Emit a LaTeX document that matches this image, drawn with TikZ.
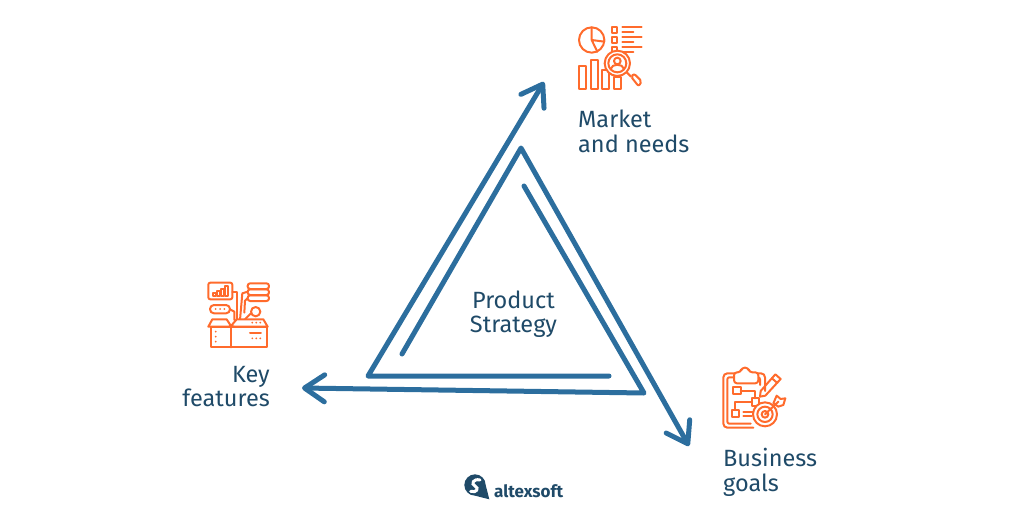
\documentclass[tikz,border=0pt]{standalone}
\usepackage{fontspec}
\setmainfont{Fira Sans}
\usepackage{xcolor}
\usetikzlibrary{arrows.meta, positioning}
\definecolor{FlowBlue}{HTML}{2C6E9E}
\definecolor{LabelNavy}{HTML}{1F4A68}
\definecolor{IconOrange}{HTML}{FF6B2C}
\tikzset{
  % Triangle strokes
  flow_line/.style={
    draw=FlowBlue, line width=5pt,
    line cap=round, line join=round
  },
  % Stroke with an open head
  flow_arrow/.style={
    flow_line,
    -{Straight Barb[length=20pt, width=27pt, round, line width=5pt]}
  },
  % Caption text
  label_text/.style={
    text=LabelNavy, align=left, inner sep=0pt,
    font=\fontsize{23.5}{24.5}\selectfont
  },
  % Icon outline, drawn in 3x crop units
  icon_line/.style={
    draw=IconOrange, line width=2pt,
    line cap=round, line join=round
  },
  icon_box/.style={
    shift={#1}, x=0.3333pt, y=-0.3333pt
  }
}

\begin{document}
\begin{tikzpicture}[x=1pt, y=-1pt]

\useasboundingbox (0,0) rectangle (1025,530);

% Corners of the strokes
\coordinate (first_start) at (402,354);
\coordinate (first_apex) at (521,148);
\coordinate (goals_tip) at (689,446);
\coordinate (second_start) at (609,376);
\coordinate (second_corner) at (368,376);
\coordinate (market_tip) at (544,82);
\coordinate (third_start) at (524,186);
\coordinate (third_corner) at (644,393);
\coordinate (features_tip) at (302,388);

% Strokes
\draw[flow_arrow] (first_start) -- (first_apex) -- (goals_tip);
\draw[flow_arrow] (second_start) -- (second_corner) -- (market_tip);
\draw[flow_arrow] (third_start) -- (third_corner) -- (features_tip);

% Labels
\node[label_text, align=center, anchor=center] (strategy) at (513.5,314)
  {Product\\Strategy};
\node[label_text, anchor=north west] (market) at (578,110)
  {Market\\and needs};
\node[label_text, align=right, anchor=north east] (features) at (270,366)
  {Key\\features};
\node[label_text, anchor=north west] (goals) at (723,448)
  {Business\\goals};

% Market icon
\begin{scope}[icon_box={(560,10)}]
  \draw[icon_line] (95,90) circle[radius=38];
  \draw[icon_line] (95,52) -- (95,90) -- (133,95) (95,90) -- (112,125);
  \foreach \row in {52,82,112} {
    \draw[icon_line] (155,\row) rectangle ++(16,16);
    \draw[icon_line] (187,\row) -- (245,\row);
    \draw[icon_line] (187,\row+14) -- (220,\row+14);
  }
  \draw[icon_line] (57,168) rectangle (78,238);
  \draw[icon_line] (92,150) rectangle (113,238);
  \draw[icon_line] (127,180) rectangle (148,238);
  \draw[icon_line] (162,200) rectangle (183,238);
  \draw[icon_line, fill=white] (172,160) circle[radius=38];
  \draw[icon_line] (172,160) circle[radius=27];
  \draw[icon_line] (172,153) circle[radius=10];
  \draw[icon_line] (152,177) .. controls (155,160) and (189,160) .. (192,177);
  \draw[icon_line] (200,187) -- (213,200);
  \draw[icon_line, rounded corners=2pt] (213,200) -- (222,191) -- (245,214) -- (236,229) -- cycle;
\end{scope}

% Features icon
\begin{scope}[icon_box={(195,270)}]
  \draw[icon_line, rounded corners=2pt] (40,38) rectangle (112,88);
  \foreach \col/\top in {55/70,67/64,79/56,91/48} {
    \draw[icon_line] (\col,78) rectangle (\col+8,\top);
  }
  \foreach \row in {40,58,76} {
    \draw[icon_line, rounded corners=2.5pt] (158,\row) rectangle (222,\row+17);
  }
  \draw[icon_line, rounded corners=4pt] (45,105) rectangle (105,130);
  \foreach \col in {62,75,88} {
    \fill[IconOrange] (\col,117) circle[radius=3];
  }
  \draw[icon_line] (182,125) circle[radius=14];
  \draw[icon_line] (112,65) -- (125,65) -- (125,150);
  \draw[icon_line] (158,65) -- (142,70) -- (135,150);
  \draw[icon_line] (158,85) -- (150,92) -- (148,128);
  \draw[icon_line] (168,130) -- (150,148);
  \draw[icon_line] (105,118) -- (118,125) -- (118,150);
  \draw[icon_line, fill=white] (48,170) rectangle (215,232);
  \draw[icon_line, fill=white] (40,170) -- (52,148) -- (95,148) -- (108,168) -- (100,170) -- cycle;
  \draw[icon_line, fill=white] (108,168) -- (125,148) -- (205,148) -- (218,170) -- (120,170) -- cycle;
  \draw[icon_line] (108,168) -- (108,232);
  \foreach \row in {185,200,215} {
    \fill[IconOrange] (62,\row) circle[radius=3];
  }
  \foreach \col in {172,184,196} {
    \fill[IconOrange] (\col,158) circle[radius=3];
    \fill[IconOrange] (\col,205) circle[radius=3];
  }
  \draw[icon_line] (165,190) -- (198,190);
\end{scope}

% Goals icon
\begin{scope}[icon_box={(710,355)}]
  \draw[icon_line, rounded corners=4pt] (165,108) -- (165,55) -- (40,55) -- (40,218) -- (130,218);
  \draw[icon_line, rounded corners=2pt] (150,90) -- (150,67) -- (52,67) -- (52,206) -- (122,206);
  \draw[icon_line, fill=white, rounded corners=3pt] (72,52) -- (92,52) -- (95,38) -- (115,38) -- (118,52) -- (145,52) -- (145,85) -- (72,85) -- cycle;
  \draw[icon_line] (70,97) rectangle (92,118);
  \draw[icon_line] (125,130) rectangle (147,152);
  \draw[icon_line] (65,165) rectangle (87,187);
  \draw[icon_line] (92,107) -- (135,107) -- (135,130);
  \draw[icon_line] (125,141) -- (76,141) -- (76,165);
  \draw[icon_line] (100,170) -- (130,170) (100,183) -- (125,183);
  \draw[icon_line] (152,108) -- (196,58) -- (212,72) -- (166,122) -- (150,125) -- cycle;
  \draw[icon_line] (186,70) -- (202,84);
  \draw[icon_line, fill=white] (165,178) circle[radius=36];
  \draw[icon_line] (165,178) circle[radius=23];
  \draw[icon_line] (165,178) circle[radius=10];
  \draw[icon_line] (165,178) -- (205,140);
  \draw[icon_line] (190,145) -- (200,122) -- (212,132) -- (226,130) -- (220,150) -- (205,155) -- cycle;
\end{scope}

% Logo
\begin{scope}[icon_box={(450,460)}]
  \fill[LabelNavy] (75,75) circle[radius=32];
  \fill[LabelNavy] (75,107) -- (118,118) -- (107,75) -- cycle;
  \draw[white, line width=3pt, line cap=round] (90,60) .. controls (70,55) and (62,72) .. (75,78) .. controls (88,84) and (80,100) .. (62,94);
\end{scope}
\node[inner sep=0pt, anchor=base west, text=LabelNavy,
      font=\fontsize{17}{18}\selectfont\bfseries] (logo) at (494,497) {altexsoft};

\end{tikzpicture}
\end{document}
